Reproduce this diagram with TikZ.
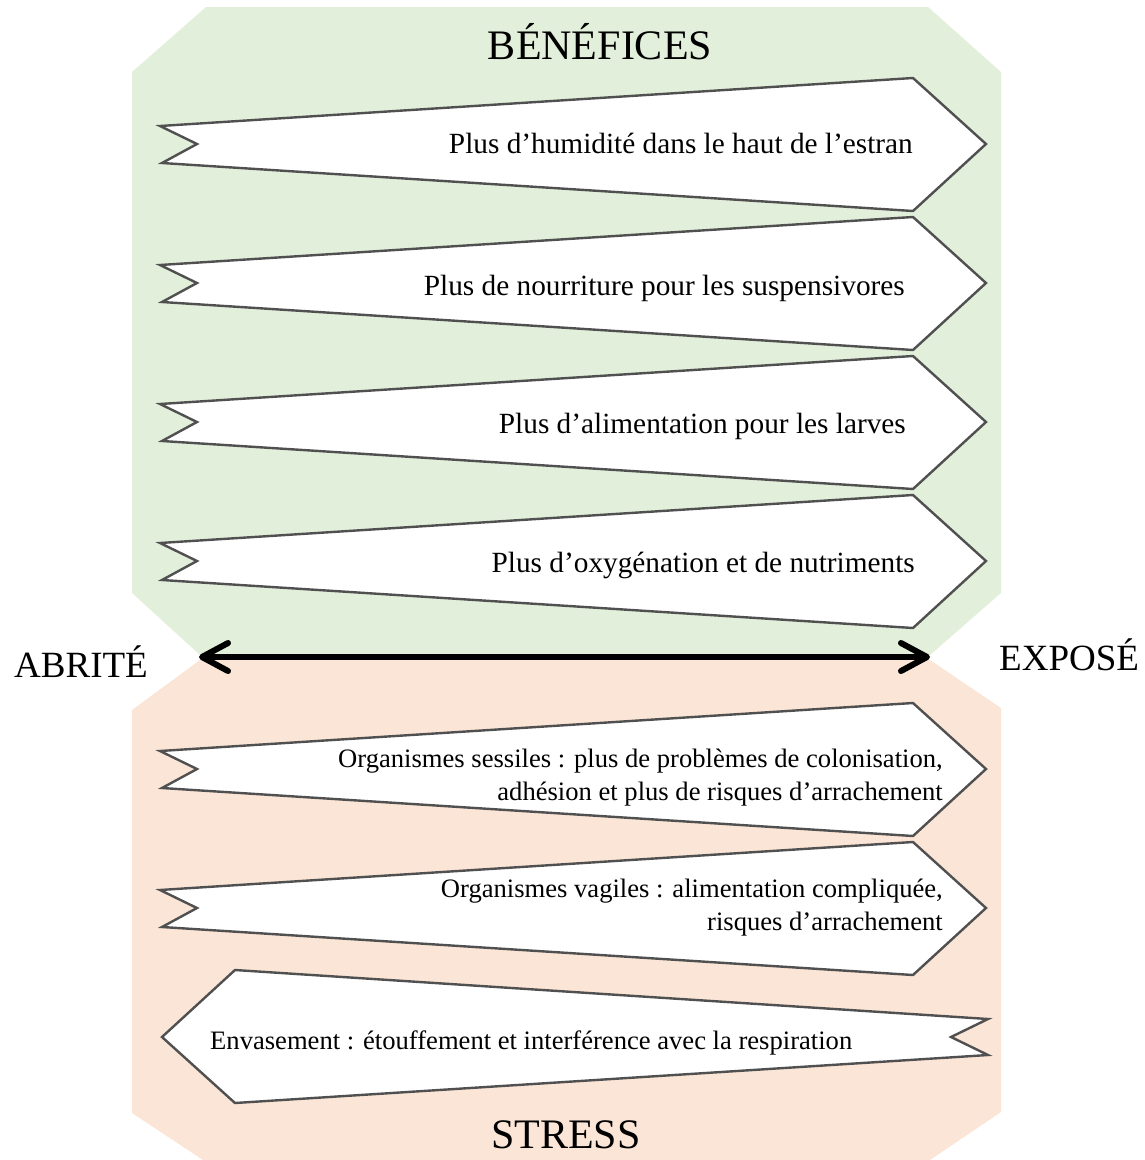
\documentclass[tikz,border=0pt]{standalone}
\usepackage{fontspec}
\setmainfont{Liberation Serif}
\usetikzlibrary{arrows.meta}
\definecolor{bgreen}{HTML}{E2EFDA}
\definecolor{bpeach}{HTML}{FBE5D6}
\definecolor{bline}{HTML}{505050}
\newcommand\bannerR[1]{\draw[banner] (160,#1-18) -- (197,#1) -- (162,#1+19) -- (913,#1+67) -- (986,#1) -- (913,#1-66) -- cycle;}
\begin{document}
\begin{tikzpicture}[x=1pt,y=-1pt,
  banner/.style={draw=bline, line width=2.4pt, fill=white, line join=miter},
  btext/.style={font=\fontsize{29.3}{34}\selectfont, inner sep=0pt, anchor=base east},
  stext/.style={font=\fontsize{26.6}{33}\selectfont, inner sep=0pt, anchor=base east, align=right},
  title/.style={font=\fontsize{42}{48}\selectfont, inner sep=0pt, anchor=base},
  side/.style={font=\fontsize{37}{44}\selectfont, inner sep=0pt, anchor=base west},
  bigarrow/.style={line width=6pt, line cap=round, line join=round,
    {Straight Barb[length=26pt,width=28pt,round]}-{Straight Barb[length=26pt,width=28pt,round]}}]
\useasboundingbox (0,0) rectangle (1144,1160);
% backgrounds
\fill[bgreen] (206,7) -- (928,7) -- (1001,72) -- (1001,593) -- (930,655) -- (200,655) -- (132,593) -- (132,72) -- cycle;
\fill[bpeach] (200,660) -- (930,660) -- (1001,708) -- (1001,1112) -- (930,1160) -- (203,1160) -- (132,1113) -- (132,710) -- cycle;
% titles
\node[title] (tben) at (600,59) {BÉNÉFICES};
\node[title] (tstr) at (566,1148) {STRESS};
\node[side] (abr) at (14,677) {ABRITÉ};
\node[side] (exp) at (999,670) {EXPOSÉ};
% benefit banners
\bannerR{144}
\bannerR{283}
\bannerR{422}
\bannerR{561}
\node[btext] (b1) at (913,153) {Plus d’humidité dans le haut de l’estran};
\node[btext] (b2) at (905,295) {Plus de nourriture pour les suspensivores};
\node[btext] (b3) at (906,433) {Plus d’alimentation pour les larves};
\node[btext] (b4) at (915,572) {Plus d’oxygénation et de nutriments};
% stress banners
\bannerR{769}
\bannerR{908}
\draw[banner] (162,1037) -- (235,970) -- (988,1019) -- (951,1037) -- (988,1055) -- (235,1103) -- cycle;
\node[stext] (s1) at (943,800) {Organismes sessiles : plus de problèmes de colonisation,\\adhésion et plus de risques d’arrachement};
\node[stext] (s2) at (943,930) {Organismes vagiles : alimentation compliquée,\\risques d’arrachement};
\node[stext, anchor=base west] (s3) at (210,1049) {Envasement : étouffement et interférence avec la respiration};
% axis arrow
\coordinate (L) at (199,657);
\coordinate (R) at (930,657);
\draw[bigarrow] (L) -- (R);
\end{tikzpicture}
\end{document}
